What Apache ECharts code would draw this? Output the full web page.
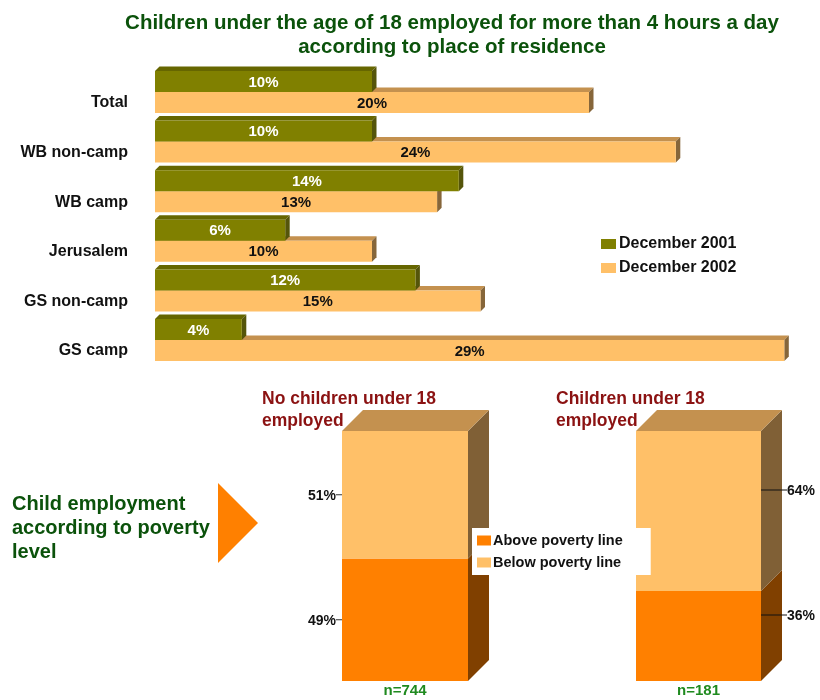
<!DOCTYPE html>
<html>
<head>
<meta charset="utf-8">
<script src="https://cdn.jsdelivr.net/npm/echarts@6/dist/echarts.min.js"></script>
<style>
  html, body { margin: 0; padding: 0; background: #ffffff; }
  #chart { width: 820px; height: 700px; }
</style>
</head>
<body>
<div id="chart"></div>
<script>
// Place of residence: share of children working more than 4 hours a day
const regions = ['Total', 'WB non-camp', 'WB camp', 'Jerusalem', 'GS non-camp', 'GS camp'];
const dec2001 = [10, 10, 14, 6, 12, 4];
const dec2002 = [20, 24, 13, 10, 15, 29];

// Poverty level by household child employment
const householdGroups = ['No children under 18 employed', 'Children under 18 employed'];
const abovePoverty = [49, 36];
const belowPoverty = [51, 64];
const sampleSizes = [744, 181];

const FONT = '"Liberation Sans", Arial, sans-serif';

const OLIVE = { front: '#808000', top: '#666600', side: '#55550a' };
const PEACH = { front: '#ffc068', top: '#c4914f', side: '#86663a' };
const ORANGE = { front: '#ff8000', top: '#c4914f', side: '#804000' };
const PEACH_COL = { front: '#ffc068', top: '#c4914f', side: '#806036' };

// Horizontal 3D bar: slot 0 sits above the category centre line, slot 1 below it
function hBar3D(slot, colors, labelColor) {
  return function (params, api) {
    const v = api.value(0);
    const cat = api.value(1);
    const p0 = api.coord([0, cat]);
    const p1 = api.coord([v, cat]);
    const thick = 21;
    const dx = 4.5, dy = 4.5;
    const y0 = slot === 0 ? p0[1] - thick : p0[1];
    const y1 = y0 + thick;
    const x0 = p0[0], x1 = p1[0];
    return {
      type: 'group',
      children: [
        { type: 'polygon', shape: { points: [[x0, y0], [x0 + dx, y0 - dy], [x1 + dx, y0 - dy], [x1, y0]] }, style: { fill: colors.top } },
        { type: 'polygon', shape: { points: [[x1, y0], [x1 + dx, y0 - dy], [x1 + dx, y1 - dy], [x1, y1]] }, style: { fill: colors.side } },
        { type: 'rect', shape: { x: x0, y: y0, width: x1 - x0, height: thick }, style: { fill: colors.front } },
        { type: 'text', style: { text: v + '%', x: (x0 + x1) / 2, y: (y0 + y1) / 2 + 1, align: 'center', verticalAlign: 'middle', fill: labelColor, font: 'bold 15px ' + FONT } }
      ]
    };
  };
}

// Stacked 3D column segment with a leader-line value label
function column3D(colors, labelSide, drawTop) {
  return function (params, api) {
    const cat = api.value(0), lo = api.value(1), hi = api.value(2), v = api.value(3);
    const bw = api.size([1, 0])[0];
    const cLo = api.coord([cat, lo]);
    const cHi = api.coord([cat, hi]);
    const x0 = cLo[0] - bw / 2, x1 = cLo[0] + bw / 2;
    const yb = cLo[1], yt = cHi[1];
    const d = 21;
    const kids = [
      { type: 'polygon', shape: { points: [[x1, yt], [x1 + d, yt - d], [x1 + d, yb - d], [x1, yb]] }, style: { fill: colors.side } },
      { type: 'rect', shape: { x: x0, y: yt, width: x1 - x0, height: yb - yt }, style: { fill: colors.front } }
    ];
    if (drawTop) {
      kids.push({ type: 'polygon', shape: { points: [[x0, yt], [x0 + d, yt - d], [x1 + d, yt - d], [x1, yt]] }, style: { fill: colors.top } });
    }
    const font = 'bold 14px ' + FONT;
    if (labelSide === 'left') {
      const ym = (yt + yb) / 2;
      kids.push({ type: 'line', shape: { x1: x0 - 6, y1: ym, x2: x0, y2: ym }, style: { stroke: '#333', lineWidth: 1 } });
      kids.push({ type: 'text', style: { text: v + '%', x: x0 - 6, y: ym + 1, align: 'right', verticalAlign: 'middle', fill: '#111', font: font } });
    } else {
      const ym = (yt + yb) / 2 - d;
      kids.push({ type: 'line', shape: { x1: x1, y1: ym, x2: x1 + d + 5, y2: ym }, style: { stroke: '#111', lineWidth: 1 } });
      kids.push({ type: 'text', style: { text: v + '%', x: x1 + d + 5, y: ym + 1, align: 'left', verticalAlign: 'middle', fill: '#111', font: font } });
    }
    return { type: 'group', children: kids };
  };
}

const columnGrids = [
  { left: 342, top: 431, width: 126, height: 250 },
  { left: 636, top: 431, width: 125, height: 250 }
];

const grids = [{ left: 155, top: 67.2, width: 651, height: 297.6 }].concat(columnGrids);

const xAxes = [
  { gridIndex: 0, type: 'value', min: 0, max: 30, show: false }
];
const yAxes = [
  {
    gridIndex: 0, type: 'category', inverse: true, data: regions,
    axisLine: { show: false }, axisTick: { show: false }, splitLine: { show: false },
    axisLabel: { margin: 27, verticalAlign: 'top', lineHeight: 22, color: '#111', fontWeight: 'bold', fontSize: 16, fontFamily: FONT }
  }
];

const series = [
  {
    type: 'custom', name: 'December 2002', xAxisIndex: 0, yAxisIndex: 0, z: 2,
    itemStyle: { color: PEACH.front },
    renderItem: hBar3D(1, PEACH, '#111'),
    encode: { x: 0, y: 1 },
    data: dec2002.map((v, i) => [v, i])
  },
  {
    type: 'custom', name: 'December 2001', xAxisIndex: 0, yAxisIndex: 0, z: 3,
    itemStyle: { color: OLIVE.front },
    renderItem: hBar3D(0, OLIVE, '#ffffff'),
    encode: { x: 0, y: 1 },
    data: dec2001.map((v, i) => [v, i])
  }
];

householdGroups.forEach((g, i) => {
  const gi = i + 1;
  xAxes.push({
    gridIndex: gi, type: 'category', data: ['n=' + sampleSizes[i]],
    axisLine: { show: false }, axisTick: { show: false },
    axisLabel: { margin: 2, color: '#1f8a1f', fontWeight: 'bold', fontSize: 15, fontFamily: FONT }
  });
  yAxes.push({ gridIndex: gi, type: 'value', min: 0, max: 100, show: false });
  const side = i === 0 ? 'left' : 'right';
  series.push({
    type: 'custom', name: 'Above poverty line', xAxisIndex: gi, yAxisIndex: gi, z: 2,
    itemStyle: { color: ORANGE.front },
    renderItem: column3D(ORANGE, side, false),
    encode: { x: 0, y: [1, 2] },
    data: [[0, 0, abovePoverty[i], abovePoverty[i]]]
  });
  series.push({
    type: 'custom', name: 'Below poverty line', xAxisIndex: gi, yAxisIndex: gi, z: 2,
    itemStyle: { color: PEACH_COL.front },
    renderItem: column3D(PEACH_COL, side, true),
    encode: { x: 0, y: [1, 2] },
    data: [[0, abovePoverty[i], abovePoverty[i] + belowPoverty[i], belowPoverty[i]]]
  });
});

const GREEN = '#0b520b';
const RED = '#8b1212';

const chart = echarts.init(document.getElementById('chart'), null, { renderer: 'canvas' });
chart.setOption({
  backgroundColor: '#ffffff',
  animation: false,
  grid: grids,
  xAxis: xAxes,
  yAxis: yAxes,
  legend: [
    {
      data: ['December 2001', 'December 2002'],
      orient: 'vertical', left: 596, top: 231,
      itemWidth: 15, itemHeight: 10, itemGap: 8,
      icon: 'rect',
      textStyle: { color: '#111', fontWeight: 'bold', fontSize: 16, fontFamily: FONT, padding: [0, 0, 0, -2] }
    },
    {
      data: ['Above poverty line', 'Below poverty line'],
      orient: 'vertical', left: 472, top: 528,
      backgroundColor: '#ffffff',
      padding: [5, 28, 5, 5],
      itemWidth: 14, itemHeight: 10, itemGap: 7,
      icon: 'rect', z: 10,
      textStyle: { color: '#111', fontWeight: 'bold', fontSize: 14.5, fontFamily: FONT, padding: [0, 0, 0, -3] }
    }
  ],
  graphic: [
    { type: 'text', x: 452, y: 23, style: { text: 'Children under the age of 18 employed for more than 4 hours a day', align: 'center', verticalAlign: 'middle', fill: GREEN, font: 'bold 20.5px ' + FONT } },
    { type: 'text', x: 452, y: 47, style: { text: 'according to place of residence', align: 'center', verticalAlign: 'middle', fill: GREEN, font: 'bold 20.5px ' + FONT } },
    { type: 'text', x: 262, y: 399, style: { text: 'No children under 18', verticalAlign: 'middle', fill: RED, font: 'bold 17.5px ' + FONT } },
    { type: 'text', x: 262, y: 421, style: { text: 'employed', verticalAlign: 'middle', fill: RED, font: 'bold 17.5px ' + FONT } },
    { type: 'text', x: 556, y: 399, style: { text: 'Children under 18', verticalAlign: 'middle', fill: RED, font: 'bold 17.5px ' + FONT } },
    { type: 'text', x: 556, y: 421, style: { text: 'employed', verticalAlign: 'middle', fill: RED, font: 'bold 17.5px ' + FONT } },
    { type: 'text', x: 12, y: 504, style: { text: 'Child employment', verticalAlign: 'middle', fill: GREEN, font: 'bold 20px ' + FONT } },
    { type: 'text', x: 12, y: 528, style: { text: 'according to poverty', verticalAlign: 'middle', fill: GREEN, font: 'bold 20px ' + FONT } },
    { type: 'text', x: 12, y: 552, style: { text: 'level', verticalAlign: 'middle', fill: GREEN, font: 'bold 20px ' + FONT } },
    { type: 'polygon', shape: { points: [[218, 483], [258, 523], [218, 563]] }, style: { fill: '#ff8000' } }
  ],
  series: series
});
</script>
</body>
</html>
